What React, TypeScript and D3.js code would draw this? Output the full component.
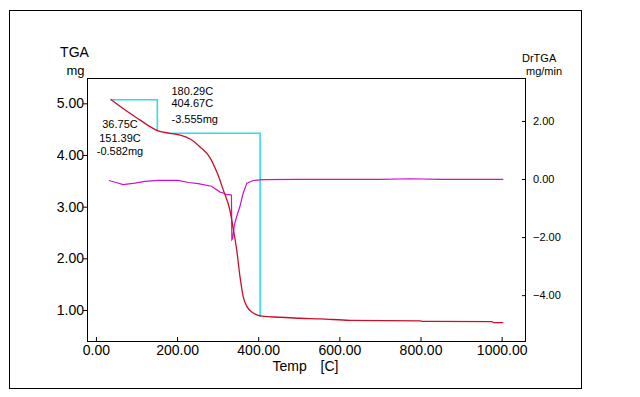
import React, { useEffect, useRef } from 'react';
import * as d3 from 'd3';

// TGA curve (temperature C, mass mg)
const tgaTemp = [36, 67, 108, 133, 155, 182, 210, 232, 256, 281, 300, 314, 330, 339, 347, 355, 363, 372, 388, 409, 454, 503, 552, 626, 799, 805, 976, 980, 1004];
const tgaMass = [5.08, 4.9, 4.68, 4.55, 4.46, 4.42, 4.38, 4.31, 4.16, 3.95, 3.63, 3.32, 2.94, 2.55, 2.16, 1.65, 1.26, 1.07, 0.94, 0.88, 0.86, 0.84, 0.83, 0.8, 0.79, 0.78, 0.775, 0.757, 0.757];

// DrTGA curve (temperature C, mg/min)
const drTemp = [32, 50, 67, 96, 121, 154, 203, 228, 252, 285, 306, 314, 322, 330, 334, 335, 337, 341, 347, 355, 363, 372, 388, 413, 500, 600, 700, 774, 850, 950, 1004];
const drRate = [-0.05, -0.12, -0.19, -0.14, -0.08, -0.05, -0.05, -0.12, -0.16, -0.25, -0.45, -0.48, -0.54, -0.54, -0.56, -2.09, -2.05, -1.6, -1.29, -0.94, -0.48, -0.14, -0.05, -0.02, -0.01, -0.01, -0.01, 0.01, -0.01, -0.01, -0.01];

// step annotations: start temp, end temp, start mass, mass loss
const steps = [
  { t0: 36.75, t1: 151.39, m0: 5.07, loss: 0.582 },
  { t0: 180.29, t1: 404.67, m0: 4.42, loss: 3.555 },
];

const xTicks = [0, 200, 400, 600, 800, 1000];
const yLeftTicks = [1, 2, 3, 4, 5];
const yRightTicks = [-4, -2, 0, 2];

const W = 640;
const H = 397;
const FONT = '"Liberation Sans", Arial, sans-serif';

const App: React.FC = () => {
  const svgRef = useRef<SVGSVGElement>(null);

  useEffect(() => {
    if (!svgRef.current) return;
    const svg = d3.select(svgRef.current);
    svg.selectAll('*').remove();

    const box = { left: 87, right: 526, top: 78, bottom: 341 };

    const x = d3.scaleLinear().domain([-22, 1060]).range([box.left, box.right]);
    const yL = d3.scaleLinear().domain([0.4, 5.49]).range([box.bottom, box.top]);
    const yR = d3.scaleLinear().domain([-5.58, 3.48]).range([box.bottom, box.top]);

    // outer frame
    svg.append('rect')
      .attr('x', 9.5).attr('y', 10.5)
      .attr('width', 572).attr('height', 378)
      .attr('fill', 'none').attr('stroke', '#000').attr('stroke-width', 1);

    // minor ticks
    const minorX = d3.range(0, 1051, 50).filter(v => !xTicks.includes(v));
    const minorL = d3.range(0.5, 5.49, 0.25).filter(v => !yLeftTicks.includes(v));
    const minorR = d3.range(-5.5, 3.49, 0.5).filter(v => !yRightTicks.includes(v));

    const gx = svg.append('g').attr('transform', `translate(0,${box.bottom})`);
    gx.call(d3.axisBottom(x).tickValues(minorX).tickSize(-2).tickFormat(() => ''));
    gx.call(d3.axisBottom(x).tickValues(xTicks).tickSize(-4).tickPadding(4).tickFormat(d3.format('.2f')));

    const gl = svg.append('g').attr('transform', `translate(${box.left},0)`);
    gl.call(d3.axisLeft(yL).tickValues(minorL).tickSize(2).tickFormat(() => ''));
    gl.call(d3.axisLeft(yL).tickValues(yLeftTicks).tickSize(4).tickPadding(-1).tickFormat(d3.format('.2f')));

    const gr = svg.append('g').attr('transform', `translate(${box.right},0)`);
    gr.call(d3.axisRight(yR).tickValues(minorR).tickSize(-2).tickFormat(() => ''));
    gr.call(d3.axisRight(yR).tickValues(yRightTicks).tickSize(-4).tickPadding(7).tickFormat(d3.format('.2f')));

    svg.selectAll('.domain').remove();
    svg.selectAll('.tick line').attr('stroke', '#000');
    svg.selectAll('.tick text').attr('fill', '#000').style('font-family', FONT);
    gx.selectAll('text').style('font-size', '14px');
    gl.selectAll('text').style('font-size', '14px');
    gr.selectAll('text').style('font-size', '11px');

    // plot box
    svg.append('rect')
      .attr('x', box.left + 0.5).attr('y', box.top + 0.5)
      .attr('width', box.right - box.left - 1).attr('height', box.bottom - box.top)
      .attr('fill', 'none').attr('stroke', '#000').attr('stroke-width', 1);

    const label = (tx: number, ty: number, s: string, size: number, anchor = 'start') =>
      svg.append('text')
        .attr('x', tx).attr('y', ty)
        .attr('text-anchor', anchor)
        .attr('dominant-baseline', 'middle')
        .style('font-family', FONT)
        .style('font-size', `${size}px`)
        .attr('fill', '#000')
        .text(s);

    // axis titles
    label(74.5, 53, 'TGA', 14, 'middle');
    label(75.5, 72, 'mg', 13, 'middle');
    label(522, 59, 'DrTGA', 11);
    label(526, 72, 'mg/min', 11);
    label(272.5, 367, 'Temp', 14);
    label(320.5, 367, '[C]', 14);

    // step lines
    const cyan = '#2fdcea';
    steps.forEach(s => {
      svg.append('path')
        .attr('d', `M${x(s.t0)},${yL(s.m0)}H${x(s.t1)}V${yL(s.m0 - s.loss)}`)
        .attr('fill', 'none')
        .attr('stroke', cyan)
        .attr('stroke-width', 1.6);
    });

    // DrTGA
    const drData = drTemp.map((t, i) => [t, drRate[i]] as [number, number]);
    svg.append('path')
      .datum(drData)
      .attr('d', d3.line<[number, number]>().x(d => x(d[0])).y(d => yR(d[1])))
      .attr('fill', 'none')
      .attr('stroke', '#cc10cc')
      .attr('stroke-width', 1.2);

    // TGA
    const tgaData = tgaTemp.map((t, i) => [t, tgaMass[i]] as [number, number]);
    svg.append('path')
      .datum(tgaData)
      .attr('d', d3.line<[number, number]>().x(d => x(d[0])).y(d => yL(d[1])).curve(d3.curveMonotoneX))
      .attr('fill', 'none')
      .attr('stroke', '#c8102a')
      .attr('stroke-width', 1.3);

    // step texts
    label(120, 125.5, '36.75C', 11, 'middle');
    label(120, 139.5, '151.39C', 11, 'middle');
    label(120, 152, '-0.582mg', 11, 'middle');
    label(171.5, 92, '180.29C', 11);
    label(171.5, 104, '404.67C', 11);
    label(171.5, 120, '-3.555mg', 11);
  }, []);

  return (
    <div style={{ position: 'absolute', left: 0, top: 0, width: W, height: H, background: '#fff' }}>
      <svg ref={svgRef} width={W} height={H} style={{ display: 'block' }} />
    </div>
  );
};

export default App;
